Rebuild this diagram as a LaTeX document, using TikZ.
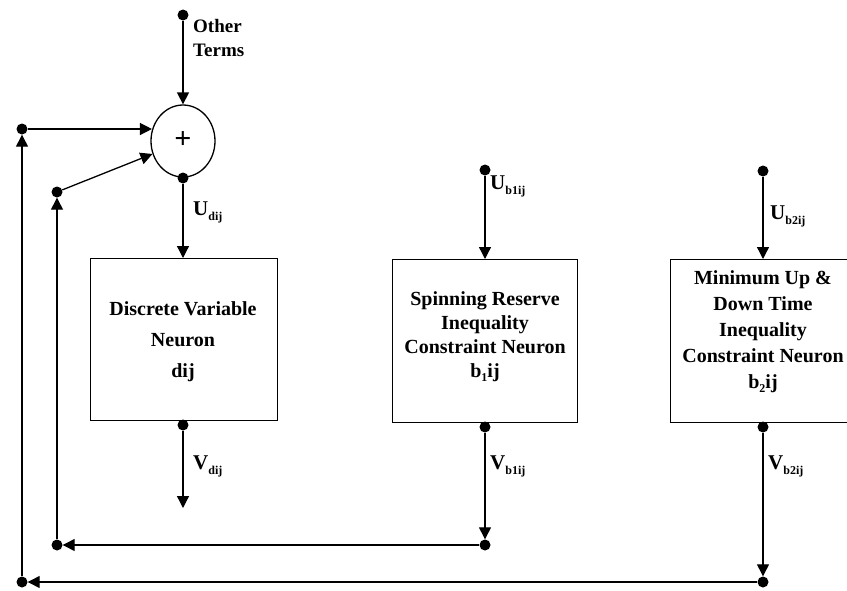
\documentclass[tikz,border=0pt]{standalone}
\usepackage{fontspec}
\setmainfont{Liberation Serif}
\usetikzlibrary{arrows.meta,shapes.geometric}
\newcommand{\sublab}[2]{#1\raisebox{-0.5ex}{\fontsize{12}{12}\selectfont #2}}
\begin{document}
\begin{tikzpicture}[x=1pt,y=-1pt,
  dot/.style={circle,fill=black,inner sep=0pt,minimum size=11pt},
  box/.style={draw,line width=1.3pt,anchor=north west,inner sep=0pt},
  arr/.style={line width=1.3pt,-{Triangle[width=12pt,length=12pt]}},
  lab/.style={font=\bfseries\fontsize{21}{21}\selectfont,anchor=west,inner sep=0pt},
  btxt/.style={font=\bfseries\fontsize{20}{24}\selectfont,align=center}]
\useasboundingbox (0,0) rectangle (847,590);
\clip (0,0) rectangle (847,590);
% sum
\node[draw,ellipse,line width=1.3pt,minimum width=64pt,minimum height=72pt,inner sep=0pt] (sum) at (183,141) {};
\node[font=\bfseries\fontsize{30}{30}\selectfont,inner sep=0pt] (plus) at (183,140) {+};
\node[dot] (top) at (183,15) {};
\node[lab,align=left,font=\bfseries\fontsize{19}{24}\selectfont] (oth) at (193,38) {Other\\Terms};
\draw[arr] (top) -- (sum.north);
\node[dot] (sout) at (183,178) {};
% boxes
\node[box,minimum width=187pt,minimum height=162pt] (b1) at (90,258) {};
\node[box,minimum width=185pt,minimum height=163pt] (b2) at (392,259) {};
\node[box,minimum width=200pt,minimum height=163pt] (b3) at (670,259) {};
\node[font=\bfseries\fontsize{20}{31}\selectfont,align=center] (t1) at (183,342) {Discrete Variable\\Neuron\\dij};
\node[btxt] (t2) at (485,337) {Spinning Reserve\\Inequality\\Constraint Neuron\\b\raisebox{-0.4ex}{\fontsize{12}{12}\selectfont 1}ij};
\node[btxt,font=\bfseries\fontsize{20}{26}\selectfont] (t3) at (763,332) {Minimum Up \&\\Down Time\\Inequality\\Constraint Neuron\\b\raisebox{-0.4ex}{\fontsize{12}{12}\selectfont 2}ij};
% inputs
\draw[arr] (sout) -- (b1.north -| sout);
\node[lab] at (193,212) {\sublab{U}{dij}};
\node[dot] (u2) at (485,170) {};
\draw[arr] (u2) -- (b2.north -| u2);
\node[lab] at (490,186) {\sublab{U}{b1ij}};
\node[dot] (u3) at (763,171) {};
\draw[arr] (u3) -- (b3.north -| u3);
\node[lab] at (770,216) {\sublab{U}{b2ij}};
% outputs
\node[dot] (v1) at (183,425) {};
\coordinate (v1e) at (183,508);
\draw[arr] (v1) -- (v1e);
\node[lab] at (193,466) {\sublab{V}{dij}};
\node[dot] (v2) at (485,427) {};
\node[dot] (v2b) at (485,545) {};
\draw[arr] (v2) -- (v2b);
\node[lab] at (490,466) {\sublab{V}{b1ij}};
\node[dot] (v3) at (763,427) {};
\node[dot] (v3b) at (763,582) {};
\draw[arr] (v3) -- (v3b);
\node[lab] at (768,466) {\sublab{V}{b2ij}};
% feedback loops
\node[dot] (lb2) at (57,545) {};
\node[dot] (lt2) at (57,192) {};
\draw[arr] (v2b) -- (lb2);
\draw[arr] (lb2) -- (lt2);
\draw[arr] (lt2) -- (sum.203);
\node[dot] (lb1) at (22,582) {};
\node[dot] (lt1) at (22,129) {};
\draw[arr] (v3b) -- (lb1);
\draw[arr] (lb1) -- (lt1);
\draw[arr] (lt1) -- (lt1 -| sum.160);
\end{tikzpicture}
\end{document}
